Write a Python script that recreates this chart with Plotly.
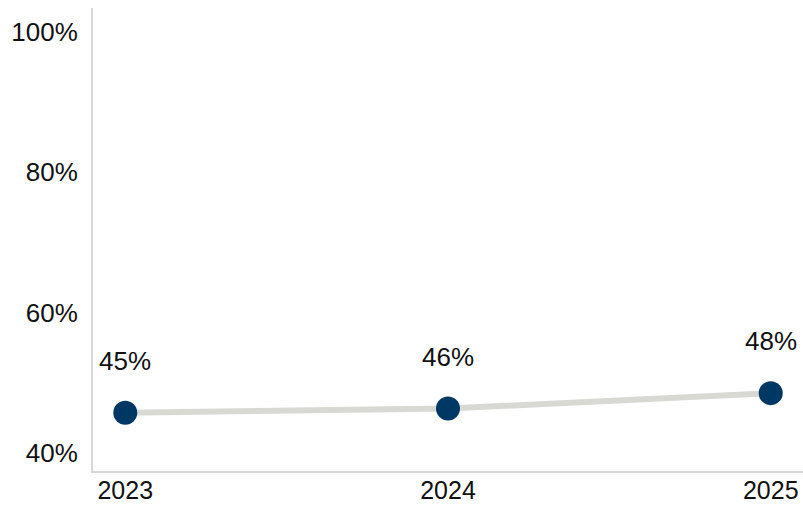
import plotly.graph_objects as go

years = ["2023", "2024", "2025"]
values = [0.457, 0.463, 0.485]
labels = ["45%", "46%", "48%"]
y_ticks = [0.4, 0.6, 0.8, 1.0]
y_tick_text = ["40%", "60%", "80%", "100%"]

fig = go.Figure()
fig.add_trace(go.Scatter(
    x=years, y=values, mode="lines+markers",
    line=dict(color="#d9d9d4", width=6),
    marker=dict(color="#003865", size=24),
    hoverinfo="skip", showlegend=False,
))
for i, (v, t) in enumerate(zip(values, labels)):
    fig.add_annotation(x=i, y=v, xref="x", yref="y", text=t, showarrow=False,
                       yshift=52, yanchor="middle",
                       font=dict(size=26, color="#111111"))

fig.update_layout(
    width=803, height=508,
    margin=dict(l=93, r=0, t=8, b=37),
    paper_bgcolor="white", plot_bgcolor="white",
    font=dict(family="Liberation Sans, Arial, sans-serif", size=26, color="#111111"),
    xaxis=dict(type="category", range=[-0.1, 2.1], showgrid=False, zeroline=False,
               showline=True, linecolor="#d9d9d9", linewidth=2, automargin=False,
               ticks="", ticklabelstandoff=-4, tickfont=dict(size=25)),
    yaxis=dict(range=[0.374, 1.034], tickvals=y_ticks, ticktext=y_tick_text,
               showgrid=False, zeroline=False, showline=True, automargin=False,
               linecolor="#d9d9d9", linewidth=2,
               ticks="outside", ticklen=8, tickcolor="rgba(0,0,0,0)",
               tickfont=dict(size=26)),
)
fig.write_html("out.html")
